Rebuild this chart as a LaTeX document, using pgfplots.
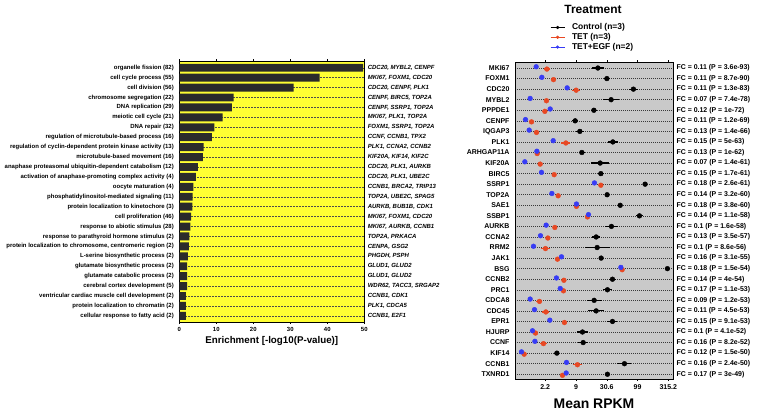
\documentclass[border=0pt]{standalone}
\usepackage{pgfplots}
\usepackage{pgfplotstable}
\pgfplotsset{compat=1.18}
\usepackage{fontspec}
\setmainfont{Liberation Sans}
\definecolor{bgyellow}{RGB}{255,255,51}
\definecolor{bardark}{RGB}{43,43,43}
\definecolor{panelgray}{RGB}{201,201,201}
\definecolor{tetred}{RGB}{232,72,35}
\definecolor{egfblue}{RGB}{55,60,245}

% GO enrichment: row, -log10(P)
\pgfplotstableread{
row v
0 49.7
1 37.9
2 30.9
3 14.7
4 14.2
5 11.7
6 9.5
7 8.8
8 6.6
9 6.4
10 5.0
11 4.5
12 3.8
13 3.6
14 3.5
15 3.2
16 3.0
17 2.7
18 2.6
19 2.35
20 2.1
21 2.1
22 2.1
23 1.8
24 1.8
25 1.75
}\enrich

% Mean RPKM on log10(RPKM+1) scale, with error half-width
\pgfplotstableread{
row x e
0 1.356 0.100
1 1.502 0.054
2 1.933 0.073
3 1.571 0.135
4 1.291 0.049
5 0.987 0.054
6 1.063 0.070
7 1.599 0.081
8 1.096 0.051
9 1.393 0.143
10 1.404 0.054
11 2.123 0.030
12 1.506 0.030
13 1.718 0.030
14 2.031 0.060
15 1.576 0.100
16 1.328 0.070
17 1.344 0.203
18 1.409 0.030
19 2.485 0.020
20 1.593 0.051
21 1.511 0.068
22 1.295 0.122
23 1.328 0.127
24 1.593 0.081
25 1.106 0.089
26 1.117 0.078
27 0.690 0.040
28 1.787 0.114
29 1.511 0.030
}\ctrl

\pgfplotstableread{
row x e
0 0.528 0.054
1 0.635 0.040
2 1.003 0.060
3 0.521 0.020
4 0.495 0.040
5 0.278 0.020
6 0.359 0.020
7 0.836 0.073
8 0.370 0.020
9 0.419 0.020
10 0.646 0.020
11 1.404 0.020
12 0.711 0.020
13 1.008 0.020
14 1.187 0.020
15 0.657 0.030
16 0.544 0.020
17 0.505 0.076
18 0.700 0.020
19 1.750 0.020
20 0.804 0.020
21 0.797 0.020
22 0.407 0.049
23 0.511 0.057
24 0.813 0.030
25 0.343 0.020
26 0.472 0.054
27 0.159 0.020
28 1.024 0.076
29 0.781 0.020
}\tet

\pgfplotstableread{
row x e
0 0.354 0
1 0.446 0
2 0.857 0
3 0.256 0
4 0.581 0
5 0.180 0
6 0.240 0
7 0.630 0
8 0.365 0
9 0.170 0
10 0.440 0
11 1.300 0
12 0.609 0
13 1.008 0
14 1.203 0
15 0.516 0
16 0.424 0
17 0.310 0
18 0.765 0
19 1.729 0
20 0.683 0
21 0.744 0
22 0.256 0
23 0.326 0
24 0.576 0
25 0.294 0
26 0.333 0
27 0.115 0
28 0.846 0
29 0.841 0
}\egf

\begin{document}
\begin{tikzpicture}
\useasboundingbox (0,0) rectangle (757bp,414bp);

% ---------------- left panel ----------------
\begin{axis}[
  at={(179.3bp,92bp)}, anchor=south west,
  width=185bp, height=261bp, scale only axis,
  xmin=0, xmax=50, ymin=-0.68, ymax=25.62, y dir=reverse,
  axis background/.style={fill=bgyellow},
  xtick={0,10,...,50},
  ytick={0,...,25},
  yticklabels={{organelle fission (82)},{cell cycle process (55)},{cell division (56)},{chromosome segregation (22)},{DNA replication (29)},{meiotic cell cycle (21)},{DNA repair (32)},{regulation of microtubule-based process (16)},{regulation of cyclin-dependent protein kinase activity (13)},{microtubule-based movement (16)},{anaphase proteasomal ubiquitin-dependent catabolism (12)},{activation of anaphase-promoting complex activity (4)},{oocyte maturation (4)},{phosphatidylinositol-mediated signaling (11)},{protein localization to kinetochore (3)},{cell proliferation (46)},{response to abiotic stimulus (28)},{response to parathyroid hormone stimulus (2)},{protein localization to chromosome, centromeric region (2)},{L-serine biosynthetic process (2)},{glutamate biosynthetic process (2)},{glutamate catabolic process (2)},{cerebral cortex development (5)},{ventricular cardiac muscle cell development (2)},{protein localization to chromatin (2)},{cellular response to fatty acid (2)}},
  ymajorgrids,
  grid style={dash pattern=on 2bp off 1bp, color=gray!60!black, line width=0.4bp},
  tick label style={font=\fontsize{6}{7}\selectfont\bfseries},
  /pgf/number format/assume math mode=true,
  ytick style={draw=none},
  xtick style={black, line width=0.5bp},
  tick align=outside, major tick length=2bp,
  axis line style={black, line width=0.8bp},
  xlabel={Enrichment [-log10(P-value)]},
  xlabel style={at={(axis description cs:0.5,-0.073)}, anchor=center, font=\fontsize{9.8}{11}\selectfont\bfseries},
]
\addplot[xbar, fill=bardark, draw=none, bar width=0.8] table[x=v, y=row] {\enrich};
\end{axis}

% gene lists on the right of left panel
\begin{axis}[
  at={(179.3bp,92bp)}, anchor=south west,
  width=185bp, height=261bp, scale only axis,
  xmin=0, xmax=50, ymin=-0.68, ymax=25.62, y dir=reverse,
  hide x axis, axis y line*=right, y axis line style={draw=none},
  ytick={0,...,25}, ytick style={draw=none},
  yticklabel style={font=\fontsize{6}{7}\selectfont\bfseries\itshape},
  yticklabels={{CDC20, MYBL2, CENPF},{MKI67, FOXM1, CDC20},{CDC20, CENPF, PLK1},{CENPF, BIRC5, TOP2A},{CENPF, SSRP1, TOP2A},{MKI67, PLK1, TOP2A},{FOXM1, SSRP1, TOP2A},{CCNF, CCNB1, TPX2},{PLK1, CCNA2, CCNB2},{KIF20A, KIF14, KIF2C},{CDC20, PLK1, AURKB},{CDC20, PLK1, UBE2C},{CCNB1, BRCA2, TRIP13},{TOP2A, UBE2C, SPAG5},{AURKB, BUB1B, CDK1},{MKI67, FOXM1, CDC20},{MKI67, AURKB, CCNB1},{TOP2A, PRKACA},{CENPA, GSG2},{PHGDH, PSPH},{GLUD1, GLUD2},{GLUD1, GLUD2},{WDR62, TACC3, SRGAP2},{CCNB1, CDK1},{PLK1, CDCA5},{CCNB1, E2F1}},
]
\addplot[draw=none, mark=none, forget plot] coordinates {(0,0)};
\end{axis}

% ---------------- right panel ----------------
\begin{axis}[
  at={(515bp,35bp)}, anchor=south west,
  width=158bp, height=317bp, scale only axis,
  xmin=0.01, xmax=2.576, ymin=-0.57, ymax=29.45, y dir=reverse,
  axis background/.style={fill=panelgray},
  xtick={0.5,1,1.5,2,2.5}, xticklabels={2.2,9,30.6,99,315.2},
  ytick={0,...,29},
  yticklabels={MKI67,FOXM1,CDC20,MYBL2,PPPDE1,CENPF,IQGAP3,PLK1,ARHGAP11A,KIF20A,BIRC5,SSRP1,TOP2A,SAE1,SSBP1,AURKB,CCNA2,RRM2,JAK1,BSG,CCNB2,PRC1,CDCA8,CDC45,EPR1,HJURP,CCNF,KIF14,CCNB1,TXNRD1},
  ymajorgrids,
  grid style={dash pattern=on 0.8bp off 1.2bp, color=gray!45!black, line width=0.5bp},
  tick label style={font=\fontsize{7}{8}\selectfont\bfseries},
  /pgf/number format/assume math mode=true,
  ytick style={draw=none},
  xtick style={black, line width=0.5bp},
  tick align=outside, major tick length=2bp,
  axis line style={black, line width=0.9bp},
  xlabel={Mean RPKM},
  xlabel style={at={(axis description cs:0.5,-0.079)}, anchor=center, font=\fontsize{14}{16}\selectfont\bfseries},
  legend style={at={(axis description cs:0.2215,1.125)}, anchor=north west, draw=none, fill=none, inner sep=0pt,
    font=\fontsize{8.5}{9}\selectfont\bfseries, row sep=0pt,
    nodes={inner sep=1bp, text height=6.3bp, text depth=1.5bp}, cells={anchor=west},
    /tikz/every odd column/.append style={column sep=6bp}},
  legend image code/.code={\draw[#1,mark=none,line width=0.8bp] (0bp,0bp) -- (14bp,0bp); \draw[#1,mark size=1.4bp,only marks] plot coordinates {(7bp,0bp)};},
  error bars/error bar style={line width=1.2bp},
]
\addplot[black, mark=*, mark size=2.4bp, only marks,
  error bars/.cd, x dir=both, x explicit, error mark=none]
  table[x=x, y=row, x error=e] {\ctrl};
\addlegendentry{Control (n=3)}
\addplot[tetred, mark=*, mark size=2.4bp, only marks,
  error bars/.cd, x dir=both, x explicit, error mark=none]
  table[x=x, y expr=\thisrow{row}+0.1, x error=e] {\tet};
\addlegendentry{TET (n=3)}
\addplot[egfblue, mark=*, mark size=2.4bp, only marks]
  table[x=x, y expr=\thisrow{row}-0.12] {\egf};
\addlegendentry{TET+EGF (n=2)}
\end{axis}

% FC labels on the right
\begin{axis}[
  at={(515bp,35bp)}, anchor=south west,
  width=158bp, height=317bp, scale only axis,
  xmin=0.01, xmax=2.576, ymin=-0.57, ymax=29.45, y dir=reverse,
  hide x axis, axis y line*=right, y axis line style={draw=none},
  ytick={0,...,29}, ytick style={draw=none},
  yticklabel style={font=\fontsize{7}{8}\selectfont\bfseries},
  yticklabels={{FC = 0.11 (P = 3.6e-93)},{FC = 0.11 (P = 8.7e-90)},{FC = 0.11 (P = 1.3e-83)},{FC = 0.07 (P = 7.4e-78)},{FC = 0.12 (P = 1e-72)},{FC = 0.11 (P = 1.2e-69)},{FC = 0.13 (P = 1.4e-66)},{FC = 0.15 (P = 5e-63)},{FC = 0.13 (P = 1e-62)},{FC = 0.07 (P = 1.4e-61)},{FC = 0.15 (P = 1.7e-61)},{FC = 0.18 (P = 2.6e-61)},{FC = 0.14 (P = 3.2e-60)},{FC = 0.18 (P = 3.8e-60)},{FC = 0.14 (P = 1.1e-58)},{FC = 0.1 (P = 1.6e-58)},{FC = 0.13 (P = 3.5e-57)},{FC = 0.1 (P = 8.6e-56)},{FC = 0.16 (P = 3.1e-55)},{FC = 0.18 (P = 1.5e-54)},{FC = 0.14 (P = 4e-54)},{FC = 0.17 (P = 1.1e-53)},{FC = 0.09 (P = 1.2e-53)},{FC = 0.11 (P = 4.5e-53)},{FC = 0.15 (P = 9.1e-53)},{FC = 0.1 (P = 4.1e-52)},{FC = 0.16 (P = 8.2e-52)},{FC = 0.12 (P = 1.5e-50)},{FC = 0.16 (P = 2.4e-50)},{FC = 0.17 (P = 3e-49)}},
]
\addplot[draw=none, mark=none, forget plot] coordinates {(1,0)};
\end{axis}

\node[font=\fontsize{12}{14}\selectfont\bfseries] at (593bp,405bp) {Treatment};
\end{tikzpicture}
\end{document}
